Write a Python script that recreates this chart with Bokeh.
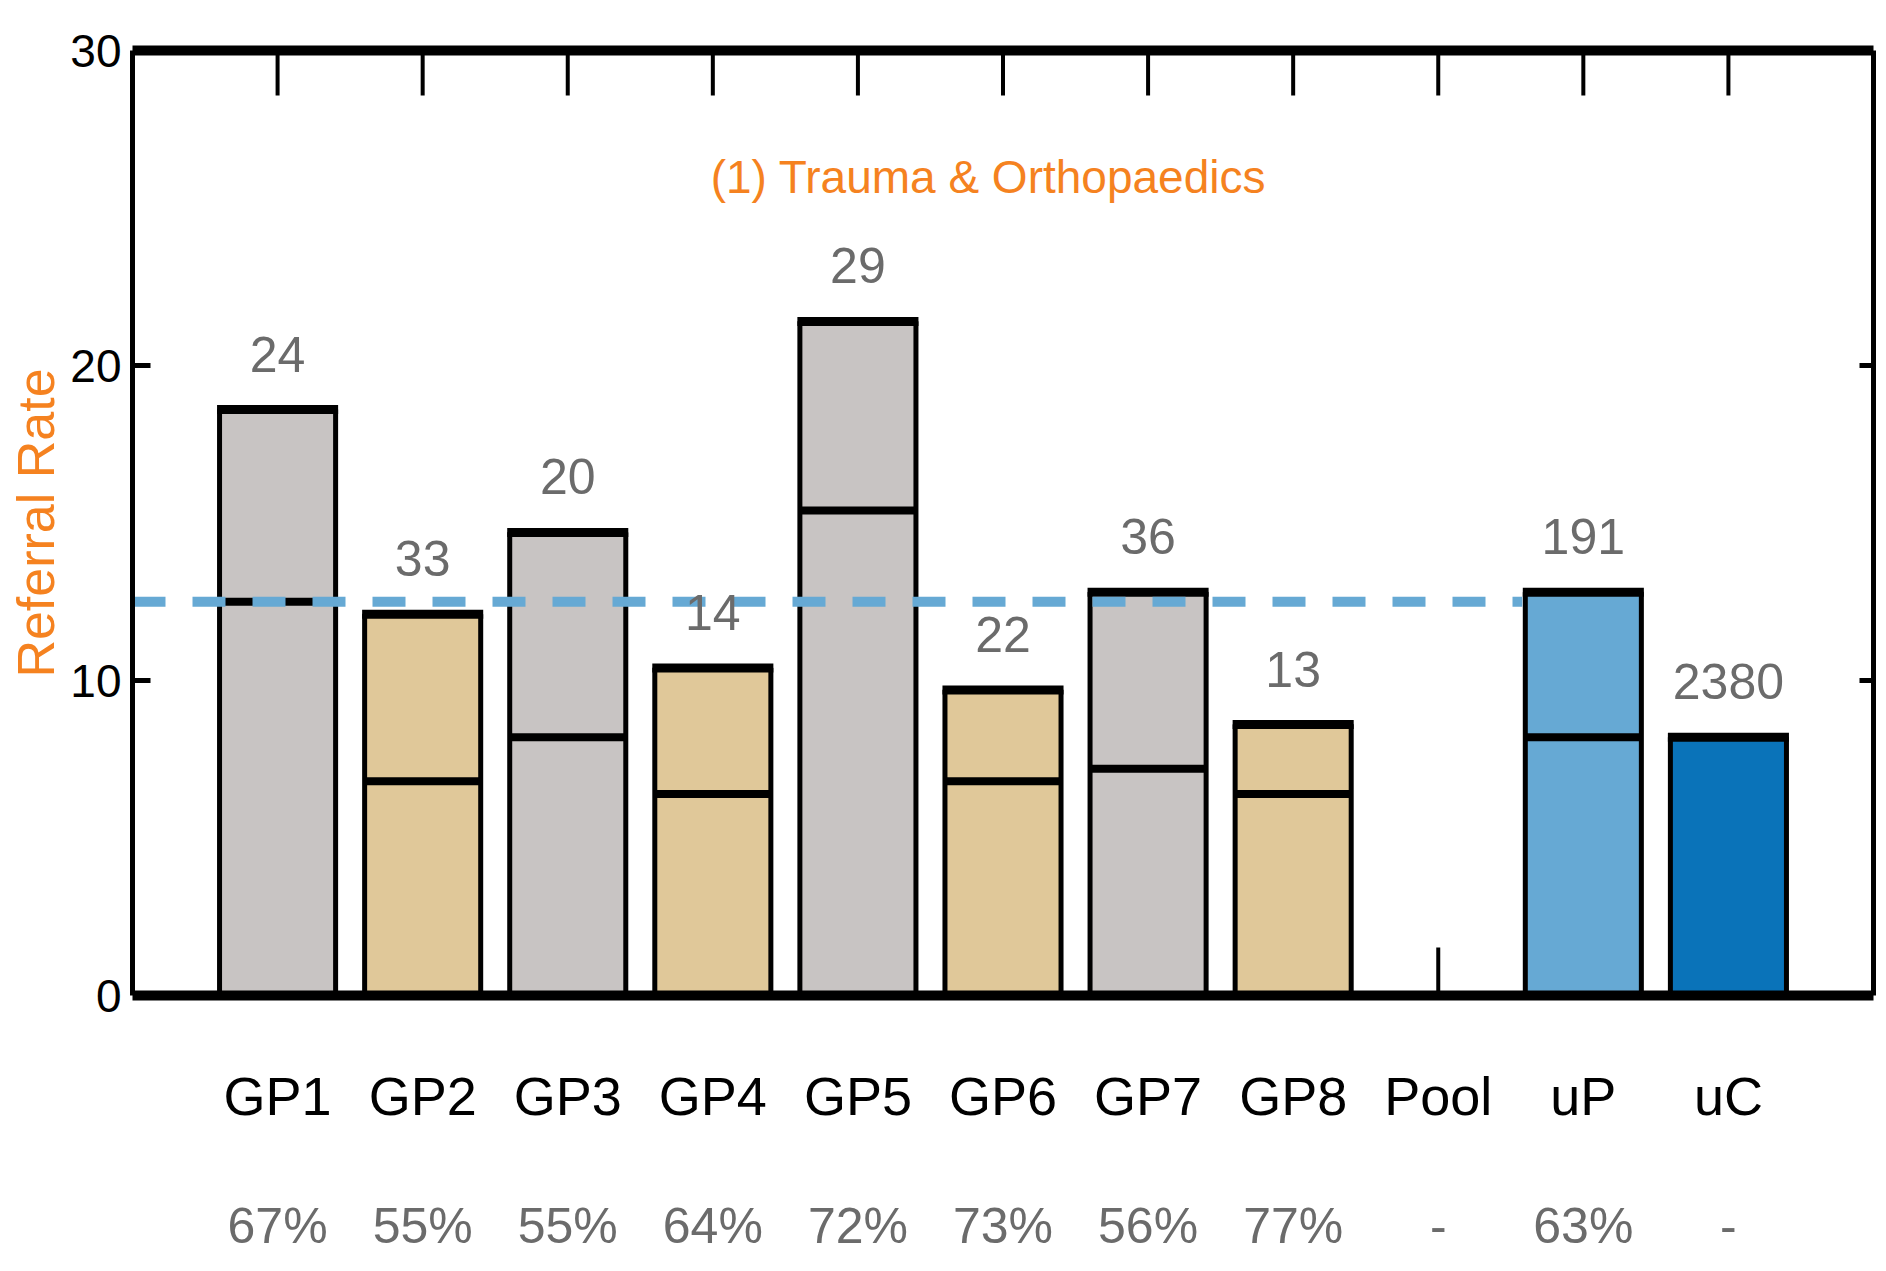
import math
from bokeh.plotting import figure
from bokeh.models import Range1d, LinearAxis, FixedTicker, Label, ColumnDataSource
from bokeh.embed import file_html
from bokeh.resources import INLINE

# ---------------- data ----------------
categories = ["GP1", "GP2", "GP3", "GP4", "GP5", "GP6", "GP7", "GP8", "Pool", "uP", "uC"]
percent_labels = ["67%", "55%", "55%", "64%", "72%", "73%", "56%", "77%", "-", "63%", "-"]
count_labels = ["24", "33", "20", "14", "29", "22", "36", "13", "", "191", "2380"]
rate_total = [18.6, 12.1, 14.7, 10.4, 21.4, 9.7, 12.8, 8.6, float("nan"), 12.8, 8.2]
rate_lower = [12.5, 6.8, 8.2, 6.4, 15.4, 6.8, 7.2, 6.4, float("nan"), 8.2, float("nan")]
bar_group = ["gp_a", "gp_b", "gp_a", "gp_b", "gp_a", "gp_b", "gp_a", "gp_b", "none", "up", "uc"]
mean_rate = 12.5
chart_title = "(1) Trauma & Orthopaedics"
y_axis_title = "Referral Rate"
y_ticks = [0, 10, 20, 30]

# ---------------- style ----------------
FONT = "Liberation Sans"
ORANGE = "#f58220"
GREY_TXT = "#6b6b6b"
group_colors = {"gp_a": "#c8c4c3", "gp_b": "#e0c899", "up": "#66a9d4", "uc": "#0a73b9", "none": "#ffffff"}
BAR_W = 0.8
FRAME_W = 1741.0
FRAME_H = 945.0

xpos = list(range(1, len(categories) + 1))
n_x = len(categories) + 1
px_y = FRAME_H / (y_ticks[-1] - y_ticks[0])
px_x = FRAME_W / n_x

p = figure(width=1879, height=1265, output_backend="svg", toolbar_location=None,
           x_range=Range1d(0, n_x), y_range=Range1d(y_ticks[0], y_ticks[-1]),
           x_axis_location=None, y_axis_location=None,
           min_border_left=132, min_border_right=6, min_border_top=50, min_border_bottom=270)
p.grid.visible = False
p.outline_line_color = None
p.background_fill_color = "white"

# tick marks drawn as glyphs (behind bars)
p.segment(x0=xpos, x1=xpos, y0=[y_ticks[0]] * len(xpos), y1=[y_ticks[0] + 48 / px_y] * len(xpos),
          line_color="black", line_width=4)
p.segment(x0=xpos, x1=xpos, y0=[y_ticks[-1]] * len(xpos), y1=[y_ticks[-1] - 45 / px_y] * len(xpos),
          line_color="black", line_width=4)
inner_y = y_ticks[1:-1]
p.segment(x0=[0] * len(inner_y), x1=[18 / px_x] * len(inner_y), y0=inner_y, y1=inner_y,
          line_color="black", line_width=5)
p.segment(x0=[n_x] * len(inner_y), x1=[n_x - 14 / px_x] * len(inner_y), y0=inner_y, y1=inner_y,
          line_color="black", line_width=5)

# bars
idx = [i for i, v in enumerate(rate_total) if not math.isnan(v)]
bars = ColumnDataSource(dict(
    x=[xpos[i] for i in idx],
    top=[rate_total[i] for i in idx],
    color=[group_colors[bar_group[i]] for i in idx],
))
p.vbar(x="x", top="top", bottom=0, width=BAR_W, source=bars,
       fill_color="color", line_color="black", line_width=5)
half = BAR_W / 2 + 2.5 / px_x
p.segment(x0=[xpos[i] - half for i in idx], x1=[xpos[i] + half for i in idx],
          y0=[rate_total[i] for i in idx], y1=[rate_total[i] for i in idx],
          line_color="black", line_width=9, line_cap="butt")
lidx = [i for i, v in enumerate(rate_lower) if not math.isnan(v)]
p.segment(x0=[xpos[i] - BAR_W / 2 for i in lidx], x1=[xpos[i] + BAR_W / 2 for i in lidx],
          y0=[rate_lower[i] for i in lidx], y1=[rate_lower[i] for i in lidx],
          line_color="black", line_width=8, line_cap="butt")

# mean dashed line (up to the uP bar)
x_end = xpos[categories.index("uP")] - BAR_W / 2 - 3 / px_x
p.segment(x0=[0], x1=[x_end], y0=[mean_rate], y1=[mean_rate],
          line_color="#66a9d4", line_width=10, line_dash="33 27", line_cap="butt")

# counts above bars
p.text(x=[xpos[i] for i in idx], y=[rate_total[i] for i in idx],
       text=[count_labels[i] for i in idx], y_offset=-38,
       text_align="center", text_baseline="bottom", text_color=GREY_TXT,
       text_font={"value": FONT}, text_font_size="50px")

p.add_layout(Label(x=5.9, y=26.0, text=chart_title, text_align="center", text_baseline="middle",
                   text_color=ORANGE, text_font=FONT, text_font_size="46px"))

# axes (lines + labels)
no_ticks = FixedTicker(ticks=[])
top_ax = LinearAxis(ticker=no_ticks, axis_line_width=10, major_tick_line_color=None,
                    minor_tick_line_color=None, major_label_standoff=0)
p.add_layout(top_ax, "above")

xt = FixedTicker(ticks=xpos)
bot_ax = LinearAxis(ticker=xt, axis_line_width=10, major_tick_line_color=None,
                    minor_tick_line_color=None, major_label_standoff=64,
                    major_label_overrides={x: c for x, c in zip(xpos, categories)},
                    major_label_text_font=FONT, major_label_text_font_size="54px",
                    major_label_text_color="black")
p.add_layout(bot_ax, "below")

pct_ax = LinearAxis(ticker=xt, axis_line_color=None, major_tick_line_color=None,
                    minor_tick_line_color=None, major_label_standoff=63,
                    major_label_overrides={x: c for x, c in zip(xpos, percent_labels)},
                    major_label_text_font=FONT, major_label_text_font_size="50px",
                    major_label_text_color=GREY_TXT)
p.add_layout(pct_ax, "below")

yt = FixedTicker(ticks=y_ticks)
left_ax = LinearAxis(ticker=yt, axis_line_width=5, major_tick_line_color=None,
                     minor_tick_line_color=None,
                     major_label_standoff=5, major_label_text_font=FONT,
                     major_label_text_font_size="46px", major_label_text_color="black",
                     axis_label=y_axis_title, axis_label_text_color=ORANGE,
                     axis_label_text_font=FONT, axis_label_text_font_size="52px",
                     axis_label_text_font_style="normal", axis_label_standoff=2)
p.add_layout(left_ax, "left")

right_ax = LinearAxis(ticker=no_ticks, axis_line_width=5, major_tick_line_color=None,
                      minor_tick_line_color=None, major_label_standoff=0)
p.add_layout(right_ax, "right")

open("out.html", "w").write(file_html(p, INLINE))
